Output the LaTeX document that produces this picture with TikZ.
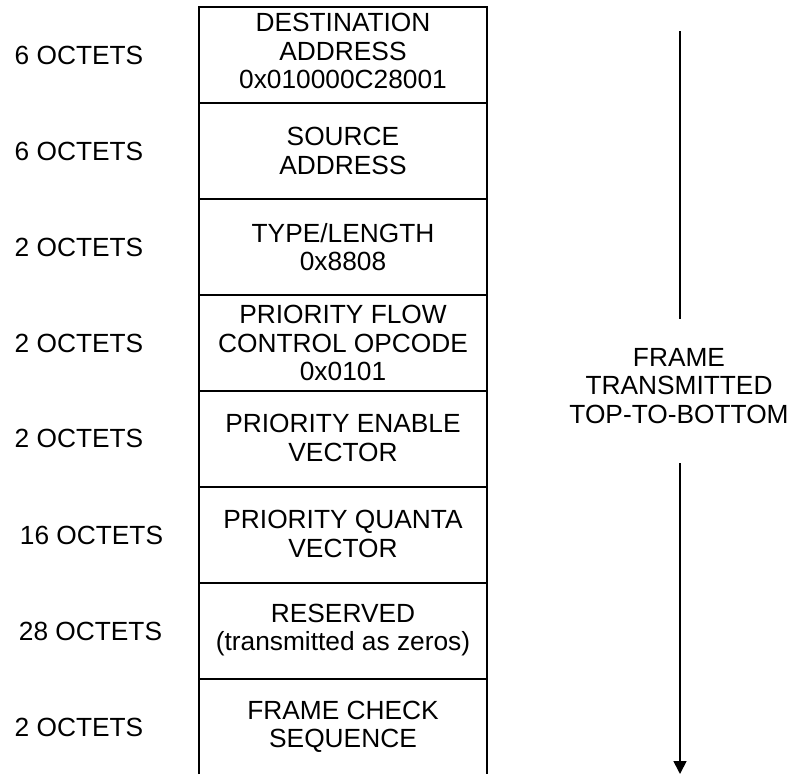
\documentclass[tikz,border=0pt]{standalone}
\usepackage{fontspec}
\setmainfont{Liberation Sans}
\usetikzlibrary{arrows.meta}
\begin{document}
\begin{tikzpicture}[x=1pt,y=-1pt,
  txt/.style={font=\fontsize{26.3}{28.5}\selectfont, align=center, inner sep=0pt},
  field/.style={txt},
  size/.style={txt},
  frameline/.style={line width=2.8pt, line join=miter},
  flow/.style={line width=1.7pt}]
\useasboundingbox (0,0) rectangle (794,774);
% frame outline (open at the bottom)
\draw[frameline] (199,774) -- (199,7) -- (487,7) -- (487,774);
\foreach \y in {103,199,295,391,487,583,679}
  \draw[frameline] (199,\y) -- (487,\y);
% field texts
\node[field] (dst) at (343,51) {DESTINATION\\ADDRESS\\0x010000C28001};
\node[field] (src) at (343,151) {SOURCE\\ADDRESS};
\node[field] (typ) at (343,247) {TYPE/LENGTH\\0x8808};
\node[field] (opc) at (343,343) {PRIORITY FLOW\\CONTROL OPCODE\\0x0101};
\node[field] (pev) at (343,438) {PRIORITY ENABLE\\VECTOR};
\node[field] (pqv) at (343,534) {PRIORITY QUANTA\\VECTOR};
\node[field] (res) at (343,630) {RESERVED\\(transmitted as zeros)};
\node[field] (fcs) at (343,727) {FRAME CHECK\\SEQUENCE};
% sizes
\node[size] (s1) at (79,55) {6 OCTETS};
\node[size] (s2) at (79,151) {6 OCTETS};
\node[size] (s3) at (79,247) {2 OCTETS};
\node[size] (s4) at (79,343) {2 OCTETS};
\node[size] (s5) at (79,438) {2 OCTETS};
\node[size] (s6) at (91.5,535) {16 OCTETS};
\node[size] (s7) at (90.5,631) {28 OCTETS};
\node[size] (s8) at (79,727) {2 OCTETS};
% transmission direction
\node[txt] (lbl) at (679,386) {FRAME\\TRANSMITTED\\TOP-TO-BOTTOM};
\coordinate (atop) at (680,31);
\coordinate (aend1) at (680,319);
\coordinate (astart2) at (680,463);
\coordinate (abot) at (680,774);
\draw[flow] (atop) -- (aend1);
\draw[flow, -{Triangle[length=13pt,width=13pt]}] (astart2) -- (abot);
\end{tikzpicture}
\end{document}
